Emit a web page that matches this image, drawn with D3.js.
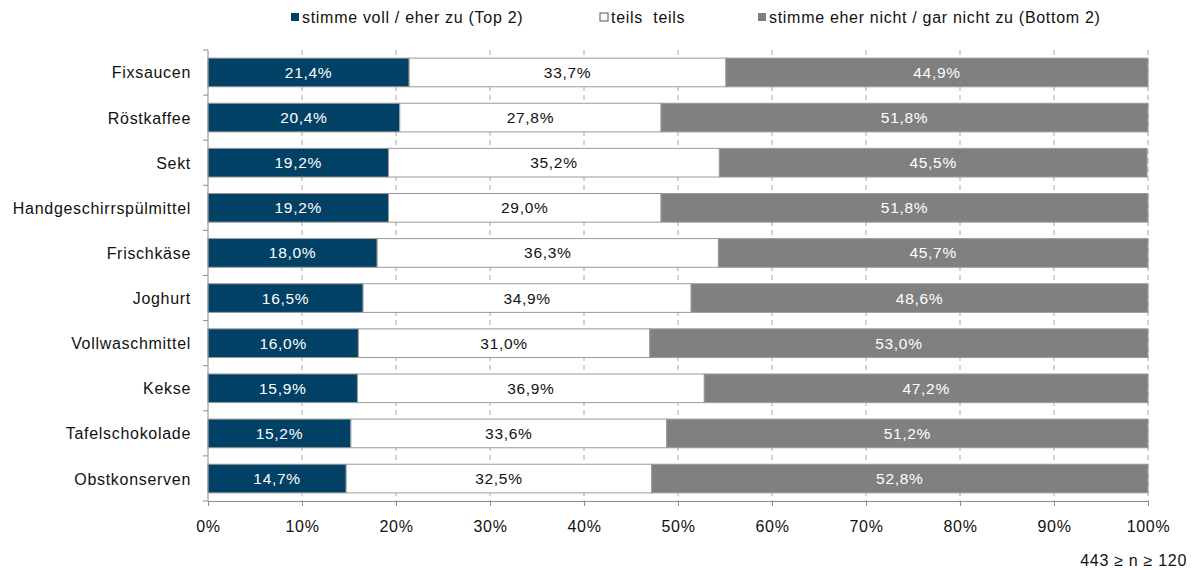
<!DOCTYPE html>
<html>
<head>
<meta charset="utf-8">
<script src="https://cdn.jsdelivr.net/npm/d3@7"></script>
<style>
  body { margin: 0; background: #fff; }
  text { font-family: "Liberation Sans", Arial, sans-serif; font-size: 16px; letter-spacing: 0.7px; fill: #111; }
</style>
</head>
<body>
<div id="chart"></div>
<script>
// Stacked 100% bar chart: agreement per product category
const categories = ["Fixsaucen", "Röstkaffee", "Sekt", "Handgeschirrspülmittel", "Frischkäse",
  "Joghurt", "Vollwaschmittel", "Kekse", "Tafelschokolade", "Obstkonserven"];
const top2 = [21.4, 20.4, 19.2, 19.2, 18.0, 16.5, 16.0, 15.9, 15.2, 14.7];
const neutral = [33.7, 27.8, 35.2, 29.0, 36.3, 34.9, 31.0, 36.9, 33.6, 32.5];
const bottom2 = [44.9, 51.8, 45.5, 51.8, 45.7, 48.6, 53.0, 47.2, 51.2, 52.8];
const seriesNames = ["stimme voll / eher zu (Top 2)", "teils  teils", "stimme eher nicht / gar nicht zu (Bottom 2)"];
const xTicks = [0, 10, 20, 30, 40, 50, 60, 70, 80, 90, 100];
const footnote = "443 ≥ n ≥ 120";

const COLORS = ["#014165", "#ffffff", "#808080"];
const LABEL_COLORS = ["#ffffff", "#111111", "#ffffff"];

const W = 1195, H = 570;
const plot = {left: 208, right: 1148, top: 50, bottom: 501};

const svg = d3.select("#chart").append("svg")
  .attr("width", W).attr("height", H);

const x = d3.scaleLinear().domain([0, 100]).range([plot.left, plot.right]);
const y = d3.scaleBand().domain(categories).range([plot.top, plot.bottom]).paddingInner(0.365).paddingOuter(0.18);

// dashed vertical gridlines
svg.append("g").selectAll("line")
  .data(xTicks.filter(t => t > 0))
  .join("line")
  .attr("x1", d => x(d)).attr("x2", d => x(d))
  .attr("y1", plot.top).attr("y2", plot.bottom)
  .attr("stroke", "#a6a6a6")
  .attr("stroke-dasharray", "5,4");

// stack data
const rows = categories.map((c, i) => ({cat: c, vals: [top2[i], neutral[i], bottom2[i]]}));

const barG = svg.append("g");
rows.forEach(r => {
  let acc = 0;
  r.vals.forEach((v, k) => {
    const x0 = x(acc), x1 = x(acc + v);
    barG.append("rect")
      .attr("x", x0).attr("y", y(r.cat))
      .attr("width", x1 - x0).attr("height", y.bandwidth())
      .attr("fill", COLORS[k])
      .attr("stroke", "#9a9a9a").attr("stroke-width", 1);
    barG.append("text")
      .attr("x", (x0 + x1) / 2)
      .attr("y", y(r.cat) + y.bandwidth() / 2 + 5.5)
      .attr("text-anchor", "middle")
      .style("font-size", "15.5px")
      .style("fill", LABEL_COLORS[k])
      .text(d3.format(".1f")(v).replace(".", ",") + "%");
    acc += v;
  });
});

// y axis: line, ticks at band boundaries, category labels
const bounds = d3.range(categories.length + 1).map(i => plot.top + i * (plot.bottom - plot.top) / categories.length);
svg.append("line")
  .attr("x1", plot.left).attr("x2", plot.left)
  .attr("y1", plot.top).attr("y2", plot.bottom)
  .attr("stroke", "#8c8c8c");
svg.append("g").selectAll("line")
  .data(bounds)
  .join("line")
  .attr("x1", plot.left - 5).attr("x2", plot.left)
  .attr("y1", d => d).attr("y2", d => d)
  .attr("stroke", "#8c8c8c");
svg.append("g").selectAll("text")
  .data(categories)
  .join("text")
  .attr("x", 191)
  .attr("y", d => y(d) + y.bandwidth() / 2 + 6)
  .attr("text-anchor", "end")
  .text(d => d);

// x axis
const xAxis = d3.axisBottom(x).tickValues(xTicks).tickSize(5).tickPadding(15)
  .tickFormat(d => d + "%");
const xg = svg.append("g")
  .attr("transform", `translate(0,${plot.bottom})`)
  .call(xAxis);
xg.select(".domain").attr("stroke", "#8c8c8c");
xg.selectAll(".tick line").attr("stroke", "#8c8c8c");
xg.selectAll(".tick text")
  .attr("font-family", null).attr("font-size", null)
  .style("font-size", "16px").style("fill", "#111");

// legend
const legendX = [291, 600, 758];
const legend = svg.append("g");
seriesNames.forEach((name, k) => {
  legend.append("rect")
    .attr("x", legendX[k]).attr("y", 13)
    .attr("width", 8).attr("height", 8)
    .attr("fill", COLORS[k])
    .attr("stroke", k === 1 ? "#555" : "none");
  legend.append("text")
    .attr("x", legendX[k] + 11).attr("y", 23)
    .style("white-space", "pre")
    .attr("xml:space", "preserve")
    .text(name);
});

// footnote
svg.append("text")
  .attr("x", 1187).attr("y", 566)
  .attr("text-anchor", "end")
  .text(footnote);
</script>
</body>
</html>
